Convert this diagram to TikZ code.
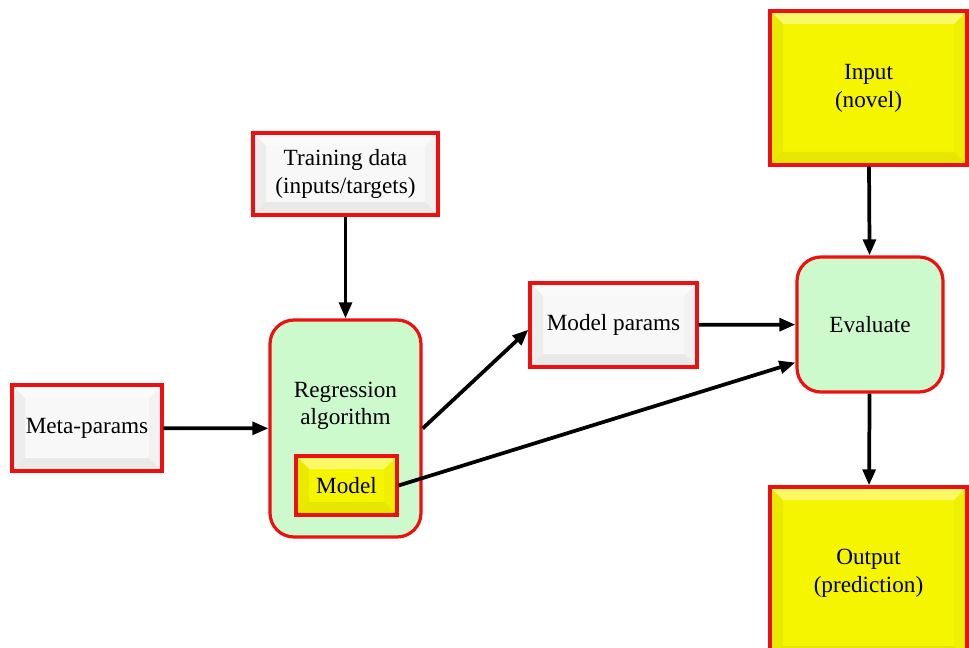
\documentclass[tikz,border=0pt]{standalone}
\usepackage{fontspec}
\setmainfont{Liberation Serif}
\usetikzlibrary{arrows.meta}

\definecolor{boxred}{RGB}{238,16,16}
\definecolor{boxyellow}{RGB}{245,245,0}
\definecolor{boxgreen}{RGB}{204,250,204}
\definecolor{boxwhite}{RGB}{248,248,248}
\newcommand{\px}{0.75pt}

\begin{document}
\begin{tikzpicture}[x=0.75pt,y=-0.75pt]
	\tikzstyle{bevelled} = [path picture={
		\fill[white, opacity=0.4] (path picture bounding box.north west) -- (path picture bounding box.north east) -- ([shift={(-13,13)}]path picture bounding box.north east) -- ([shift={(13,13)}]path picture bounding box.north west) -- cycle;
		\fill[black, opacity=0.045] (path picture bounding box.north west) -- (path picture bounding box.south west) -- ([shift={(13,-13)}]path picture bounding box.south west) -- ([shift={(13,13)}]path picture bounding box.north west) -- cycle;
		\fill[black, opacity=0.06] (path picture bounding box.south west) -- (path picture bounding box.south east) -- ([shift={(-13,-13)}]path picture bounding box.south east) -- ([shift={(13,-13)}]path picture bounding box.south west) -- cycle;
		\fill[black, opacity=0.025] (path picture bounding box.north east) -- (path picture bounding box.south east) -- ([shift={(-13,-13)}]path picture bounding box.south east) -- ([shift={(-13,13)}]path picture bounding box.north east) -- cycle;
	}]
	\tikzstyle{box} = [draw=boxred, line width=2.4pt, inner sep=0pt, align=center, font=\rmfamily\fontsize{17.4}{21}\selectfont]
	\tikzstyle{box_white} = [box, fill=boxwhite, bevelled]
	\tikzstyle{box_yellow} = [box, fill=boxyellow, bevelled]
	\tikzstyle{box_green} = [box, fill=boxgreen, rounded corners=18pt]
	\tikzstyle{flow} = [-{Triangle[length=12pt,width=9.5pt]}, line width=2.8pt]

	\useasboundingbox (0,0) rectangle (969,648);
	\clip (0,0) rectangle (969,648);

%------------------------------------------------------------
	\node[box_white, minimum width=185*\px, minimum height=82*\px] (train) at (345.5,174) {Training data\\(inputs/targets)};
	\node[box_white, minimum width=150*\px, minimum height=86*\px] (meta) at (87,428) {Meta-params};

%------------------------------------------------------------
	\node[box_green, minimum width=151*\px, minimum height=217*\px] (reg) at (345.5,428.5) {};
	\node[align=center, font=\rmfamily\fontsize{17.4}{20}\selectfont] (regtext) at (345.5,406) {Regression\\algorithm};
	\node[box_yellow, minimum width=101*\px, minimum height=59*\px] (model) at (346.5,485.5) {Model};

%------------------------------------------------------------
	\node[box_white, minimum width=167*\px, minimum height=84*\px] (mparams) at (613.5,325) {Model params};
	\node[box_green, minimum width=146*\px, minimum height=135*\px] (eval) at (870,324.5) {Evaluate};

%------------------------------------------------------------
	\node[box_yellow, minimum width=197*\px, minimum height=154*\px] (input) at (868.5,88) {Input\\(novel)};
	\node[box_yellow, minimum width=197*\px, minimum height=172*\px] (output) at (868.5,573) {Output\\(prediction)};

%------------------------------------------------------------
	\coordinate (evalin) at ([yshift=-28.5pt]eval.west);

	\draw[flow] (train) -- (reg);
	\draw[flow] (meta) -- (reg);
	\draw[flow] (reg.east) -- ([yshift=-3.5pt]mparams.west);
	\draw[flow] (mparams) -- (eval);
	\draw[flow] (model.east) -- (evalin);
	\draw[flow] (input) -- (eval);
	\draw[flow] (eval) -- (output);

\end{tikzpicture}
\end{document}
